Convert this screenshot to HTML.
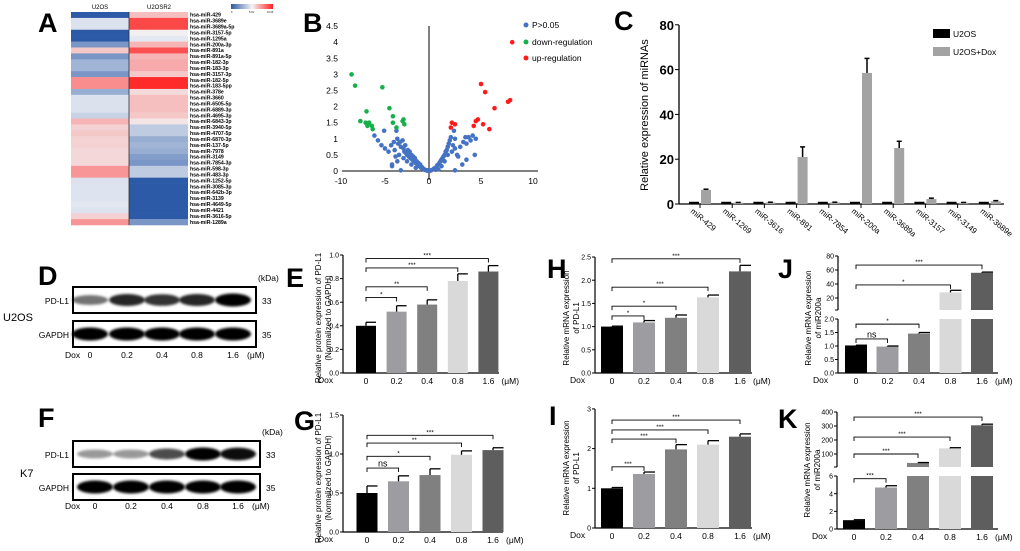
<!DOCTYPE html>
<html><head><meta charset="utf-8">
<style>
html,body{margin:0;padding:0;background:#fff;}
svg{display:block;font-family:"Liberation Sans",Arial,sans-serif;}
</style></head>
<body>
<svg id="fig" width="1020" height="551" viewBox="0 0 1020 551" xmlns="http://www.w3.org/2000/svg">
<defs>
<linearGradient id="cbar" x1="0" x2="1" y1="0" y2="0"><stop offset="0" stop-color="#2c5aa6"/><stop offset="0.5" stop-color="#f4f4f6"/><stop offset="1" stop-color="#ff2020"/></linearGradient>
<filter id="blur" x="-20%" y="-60%" width="140%" height="220%"><feGaussianBlur stdDeviation="1.4"/></filter>
</defs>
</svg>
<script>
const NS='http://www.w3.org/2000/svg';
const svg=document.getElementById('fig');
function mk(tag,attrs,parent){const e=document.createElementNS(NS,tag);for(const k in attrs)e.setAttribute(k,attrs[k]);(parent||svg).appendChild(e);return e;}
function txt(x,y,s,size,attrs,parent){const e=mk('text',Object.assign({x:x,y:y,'font-size':size,fill:'#000'},attrs||{}),parent);e.textContent=s;return e;}

/* ---------- DATA ---------- */
const hmLabels=['hsa-miR-429','hsa-miR-3689e','hsa-miR-3689a-5p','hsa-miR-3157-5p','hsa-miR-1295a','hsa-miR-200a-3p','hsa-miR-891a','hsa-miR-891a-5p','hsa-miR-182-3p','hsa-miR-183-3p','hsa-miR-3157-3p','hsa-miR-182-5p','hsa-miR-183-5pp','hsa-miR-378e','hsa-miR-3660','hsa-miR-6505-5p','hsa-miR-6889-3p','hsa-miR-4695-3p','hsa-miR-6843-3p','hsa-miR-3940-5p','hsa-miR-4707-5p','hsa-miR-6870-3p','hsa-miR-137-5p','hsa-miR-7978','hsa-miR-3149','hsa-miR-7854-3p','hsa-miR-598-3p','hsa-miR-483-3p','hsa-miR-1252-5p','hsa-miR-3085-3p','hsa-miR-642b-3p','hsa-miR-3139','hsa-miR-4649-5p','hsa-miR-4421','hsa-miR-3616-5p','hsa-miR-1289a'];
const hmU2OS=[-1,-0.1,-0.1,-1,-1,-0.6,0.2,-0.6,-0.4,-0.4,-0.6,0.5,0.5,-0.45,-0.1,-0.1,-0.1,-0.2,0.3,0.15,0.2,0.15,0.15,0.12,0.12,0.12,0.45,0.45,-0.1,-0.08,-0.08,-0.08,-0.06,-0.08,0.15,0.45];
const hmU2OSR2=[0.25,0.85,0.85,0.0,-0.05,0.3,0.8,0.3,0.35,0.35,0.2,1,1,0.1,0.25,0.25,0.25,0.2,0.05,-0.25,-0.25,-0.45,-0.4,-0.45,-0.55,-0.6,-0.25,-0.25,-1,-1,-1,-1,-1,-1,-1,-0.6];

const vBlueX=[-6.2,-5.8,-5.4,-5.1,-5,-4.6,-4.3,-4.0,-3.9,-3.6,-3.5,-3.3,-3.2,-3.0,-2.9,-2.8,-2.7,-2.6,-2.5,-2.4,-2.3,-2.2,-2.1,-2.0,-1.9,-1.8,-1.7,-1.6,-1.5,-1.4,-1.3,-1.2,-1.1,-1.0,-0.9,-0.8,-0.7,-0.6,-0.5,-0.4,-0.3,-0.2,-3.8,-3.6,-4.2,-4.2,-3.2,-3.4,-2.5,-2.9,-2,-1.5,-3.7,0.2,0.4,0.5,0.7,0.8,0.9,1.0,1.1,1.2,1.3,1.4,1.5,1.6,1.7,1.8,1.9,2.0,2.1,1.5,1.8,2.2,2.3,2.5,2.7,2.8,2.4,2.5,3.0,3.3,3.5,3.6,3.8,4.0,4.2,4.5,4.4,3.6,3.2,2.5,1.2,0.9,0,-0.1,0.1];
const vBlueY=[1.1,0.95,0.8,1.25,0.7,0.6,0.8,0.9,0.65,1.0,0.85,0.9,0.75,0.95,0.7,0.6,0.8,0.55,0.5,0.65,0.45,0.6,0.4,0.5,0.35,0.45,0.3,0.4,0.25,0.3,0.2,0.25,0.15,0.2,0.1,0.12,0.08,0.06,0.04,0.03,0.02,0.01,0.45,0.3,0.2,0.15,0.02,0.5,0.3,0.4,0.2,0.1,1.25,0.02,0.05,0.08,0.12,0.18,0.2,0.25,0.3,0.35,0.4,0.45,0.5,0.6,0.65,0.75,0.85,0.95,1.05,0.3,0.5,0.6,0.8,0.7,0.5,0.45,1.25,1.0,0.75,0.9,1.05,0.85,1.05,0.95,1.1,1.0,0.5,0.35,0.2,0.02,0.15,0.05,0.01,0.02,0.01];
const vGreenX=[-8.8,-8.4,-5.3,-7.8,-7.1,-7.2,-6.8,-6.5,-6.4,-7,-4.5,-4.1,-4.1,-3.7,-3.0,-2.9,-2.8];
const vGreenY=[3,2.65,2.6,1.55,1.85,1.5,1.5,1.4,1.3,1.4,1.95,1.7,1.5,1.35,1.55,1.6,1.45];
const vRedX=[5,5.4,6.3,7.6,7.8,2.2,2.5,2.1,4.3,4.5,4.7,5.2,5.8,8];
const vRedY=[2.7,2.45,1.95,2.15,2.2,1.5,1.45,1.35,1.4,1.55,1.6,1.45,1.3,4.0];
const vYTicks=[0,0.5,1,1.5,2,2.5,3,3.5,4,4.5];
const vXTicks=[-10,-5,0,5,10];

const cCats=['miR-429','miR-1269','miR-3616','miR-891','miR-7854','miR-200a','miR-3689a','miR-3157','miR-3149','miR-3689e'];
const cU2OS=[1,1,1,1,1,1,1,1,1,1];
const cDox=[6.3,0.6,0.7,21,0.7,58.5,25,2.2,0.6,1.2];
const cDoxErr=[0.3,0.1,0.1,4.5,0.1,6.5,3,0.4,0.1,0.3];
const cTicks=[0,20,40,60,80];

const doses=['0','0.2','0.4','0.8','1.6'];
const eVals=[0.40,0.52,0.58,0.78,0.86], eErr=[0.03,0.05,0.04,0.06,0.05];
const gVals=[0.50,0.65,0.73,0.99,1.05], gErr=[0.09,0.07,0.08,0.05,0.03];
const hVals=[1.0,1.09,1.19,1.63,2.19], hErr=[0.01,0.04,0.06,0.05,0.13];
const iVals=[1.0,1.36,1.98,2.1,2.3], iErr=[0.02,0.05,0.12,0.1,0.07];
const jVals=[1.02,0.98,1.46,28,56], jErr=[0.01,0.02,0.04,3,1];
const kVals=[1.0,4.7,36,140,305], kErr=[0.05,0.2,3,5,8];
const eBr=[[1,0.64,'*'],[2,0.73,'**'],[3,0.89,'***'],[4,0.97,'***']];
const gBr=[[1,0.82,'ns'],[2,0.97,'*'],[3,1.14,'**'],[4,1.24,'***']];
const hBr=[[1,1.23,'*'],[2,1.44,'*'],[3,1.85,'***'],[4,2.46,'***']];
const iBr=[[1,1.54,'***'],[2,2.24,'***'],[3,2.47,'***'],[4,2.72,'***']];
const jBr=[[1,1.26,'ns'],[2,1.81,'*'],[3,38.6,'*'],[4,67,'***']];
const kBr=[[1,5.7,'***'],[2,100,'***'],[3,221,'***'],[4,364,'***']];
const dBlotPD=[0.55,0.85,0.8,0.85,1.0], fBlotPD=[0.4,0.4,0.7,1.0,0.95];
const blotGAPDH=[1,1,1,1,1];

/* ---------- panel letters ---------- */
const letters=[['A',38,32],['B',303,32],['C',614,30],['D',38,285],['E',286,287],['H',547,278],['J',778,278],['F',38,427],['G',294,430],['I',549,425],['K',778,428]];
letters.forEach(l=>{const t=txt(l[1],l[2],l[0],27,{'font-weight':'bold'});

});

/* ---------- A heatmap ---------- */
function hcol(v){const a=Math.abs(v);
 if(v<0){return 'rgb('+Math.round(238-(238-44)*a)+','+Math.round(240-(240-90)*a)+','+Math.round(245-(245-166)*a)+')';}
 return 'rgb('+Math.round(242+(255-242)*a)+','+Math.round(239-(239-42)*a)+','+Math.round(240-(240-42)*a)+')';}
const hmG=mk('g',{});


const rowH=(225-12)/hmLabels.length;
hmLabels.forEach((lab,i)=>{
 const y=12+i*rowH;
 const c1=mk('rect',{x:71,y:y,width:58,height:rowH+0.3,fill:hcol(hmU2OS[i])},hmG);
 
 
 const c2=mk('rect',{x:129,y:y,width:59,height:rowH+0.3,fill:hcol(hmU2OSR2[i])},hmG);
 
 
 const t=txt(190,y+rowH*0.8,lab,5.2,{'font-weight':'bold'},hmG);
 
 
});
mk('line',{x1:129,y1:12,x2:129,y2:225,stroke:'#333','stroke-width':0.8},hmG);
let t1=txt(100,9,'U2OS',6,{'text-anchor':'middle'});
let t2=txt(159,9,'U2OSR2',6,{'text-anchor':'middle'});
const cb=mk('rect',{x:231,y:4,width:42,height:5,fill:'url(#cbar)'});


txt(231,13,'0',2.5);txt(249,13,'5.01',2.5);txt(267,13,'10.00',2.5);

/* ---------- B volcano ---------- */
function vx(v){return v<0?429+v*8.8:429+v*10.4;}
function vy(v){return 171-v*32.2;}
const vG=mk('g',{});


mk('line',{x1:342,y1:171,x2:538,y2:171,stroke:'#000','stroke-width':1},vG);
mk('line',{x1:429,y1:26,x2:429,y2:180,stroke:'#000','stroke-width':1},vG);
vYTicks.forEach(v=>{const t=txt(338,vy(v)+3,String(v),8.5,{'text-anchor':'end'},vG);});
vXTicks.forEach(v=>{const t=txt(vx(v),184,String(v),8.5,{'text-anchor':'middle'},vG);});
function dots(xs,ys,col,name){xs.forEach((x,i)=>{const c=mk('circle',{cx:vx(x),cy:vy(ys[i]),r:2.3,fill:col},vG);});}
dots(vBlueX,vBlueY,'#4472c4','point-ns');
dots(vGreenX,vGreenY,'#16b04a','point-down');
dots(vRedX,vRedY,'#ff1a1a','point-up');
[['P>0.05','#4472c4',25],['down-regulation','#16b04a',42],['up-regulation','#ff1a1a',58]].forEach(l=>{
 const c=mk('circle',{cx:526,cy:l[2],r:2.5,fill:l[1]});
 const t=txt(532,l[2]+3,l[0],8.5);});

/* ---------- C bar chart ---------- */
function cy(v){return 204-v*2.24;}
const cG=mk('g',{});


mk('line',{x1:679,y1:25,x2:679,y2:204,stroke:'#000','stroke-width':1.3},cG);
mk('line',{x1:679,y1:204,x2:1004,y2:204,stroke:'#000','stroke-width':1.3},cG);
cTicks.forEach(v=>{mk('line',{x1:675,y1:cy(v),x2:679,y2:cy(v),stroke:'#000'},cG);
 const t=txt(674,cy(v)+5,String(v),13,{'text-anchor':'end','font-weight':'bold'},cG);});
const cyl=txt(0,0,'Relative expression of miRNAs',11,{transform:'translate(648,115) rotate(-90)','text-anchor':'middle'},cG);

cCats.forEach((cat,i)=>{
 const gx=694+i*32.2;
 const b=mk('rect',{x:gx-5,y:cy(cU2OS[i]),width:10,height:204-cy(cU2OS[i]),fill:'#000'},cG);
 
 const g=mk('rect',{x:gx+7,y:cy(cDox[i]),width:10,height:204-cy(cDox[i]),fill:'#a3a3a3'},cG);
 
 const ey=cy(cDox[i]+cDoxErr[i]);
 mk('line',{x1:gx+12,y1:cy(cDox[i]),x2:gx+12,y2:ey,stroke:'#000','stroke-width':1.5},cG);
 mk('line',{x1:gx+9.5,y1:ey,x2:gx+14.5,y2:ey,stroke:'#000','stroke-width':1.5},cG);
 mk('line',{x1:gx+6,y1:204,x2:gx+6,y2:208,stroke:'#000'},cG);
 const t=txt(0,0,cat,8,{transform:'translate('+(gx-4)+',212) rotate(40)'},cG);
 
});
[['U2OS','#000',29],['U2OS+Dox','#a3a3a3',47]].forEach(l=>{
 const r=mk('rect',{x:933,y:l[2],width:17,height:9,fill:l[1]});
 const t=txt(953,l[2]+8,l[0],8.5);});

/* ---------- Western blots ---------- */
function blot(top,cell,pd,lanes,right,boxY1,boxY2,doseY){
 const g=mk('g',{});
 
 
 [[boxY1,pd,'PD-L1','33'],[boxY2,blotGAPDH,'GAPDH','35']].forEach(r=>{
  mk('rect',{x:73,y:r[0],width:right-73,height:26,fill:'#fff',stroke:'#000','stroke-width':2},g);
  r[1].forEach((v,i)=>{const e=mk('ellipse',{cx:lanes[i],cy:r[0]+13,rx:18,ry:3+v*3.5,fill:'#000','fill-opacity':v,filter:'url(#blur)'},g);
   });
  txt(69,r[0]+17,r[2],8.5,{'text-anchor':'end'},g);
  txt(right+6,r[0]+17,r[3],8.5,{},g);
 });
 txt(right+2,boxY1-6,'(kDa)',8.5,{},g);
 txt(65,doseY,'Dox',8.5,{},g);
 doses.forEach((d,i)=>txt(lanes[i],doseY,d,8.5,{'text-anchor':'middle'},g));
 txt(lanes[4]+14,doseY,'(μM)',8.5,{},g);
 const c=txt(cell==='U2OS'?3:20,top,cell,11,{},g);
}
blot(321,'U2OS',dBlotPD,[90,127,162,197,233],256,287,321,358);
blot(477,'K7',fBlotPD,[95,131,167,203,238],260,441,474,509);

/* ---------- generic bar panels ---------- */
const barColors=['#000000','#9d9da1','#808080','#d9d9d9','#5e5e5e'];
function panel(p){
 const g=mk('g',{});
 
 
 const yf=p.yf;
 if(p.brk){mk('line',{x1:p.ax,y1:p.base,x2:p.ax,y2:p.brk.lowTop,stroke:'#000','stroke-width':1.2},g);
  mk('line',{x1:p.ax,y1:p.brk.upBot,x2:p.ax,y2:p.top,stroke:'#000','stroke-width':1.2},g);
  mk('line',{x1:p.ax-3,y1:p.brk.upBot,x2:p.ax,y2:p.brk.upBot,stroke:'#000'},g);}
 else mk('line',{x1:p.ax,y1:p.base,x2:p.ax,y2:p.top,stroke:'#000','stroke-width':1.2},g);
 mk('line',{x1:p.ax,y1:p.base,x2:p.right,y2:p.base,stroke:'#000','stroke-width':1.2},g);
 p.ticks.forEach((v,i)=>{const y=yf(v);mk('line',{x1:p.ax-3,y1:y,x2:p.ax,y2:y,stroke:'#000'},g);
  const t=txt(p.ax-4,y+2.6,p.tickLabels[i],7,{'text-anchor':'end'},g);});
 p.vals.forEach((v,i)=>{
  const cx=p.x0+i*p.step, x=cx-p.bw/2;
  if(p.brk&&v>p.brk.lowMax){
   const r1=mk('rect',{x:x,y:p.brk.lowTop,width:p.bw,height:p.base-p.brk.lowTop,fill:barColors[i]},g);
   
   const r2=mk('rect',{x:x,y:yf(v),width:p.bw,height:p.brk.upBot-yf(v),fill:barColors[i]},g);
   
  } else {
   const r=mk('rect',{x:x,y:yf(v),width:p.bw,height:p.base-yf(v),fill:barColors[i]},g);
   
  }
  const ey=yf(v+p.errs[i]);
  mk('line',{x1:cx,y1:yf(v),x2:cx,y2:ey,stroke:'#000','stroke-width':1.3},g);
  mk('line',{x1:cx,y1:ey,x2:cx+p.bw/2,y2:ey,stroke:'#000','stroke-width':1.3},g);
  const t=txt(cx,p.base+11,doses[i],8.5,{'text-anchor':'middle'},g);
 });
 txt(p.ax-25,p.base+10,'Dox',8.5,{},g);
 txt(p.x0+4*p.step+13,p.base+11,'(μM)',8.5,{},g);
 p.br.forEach(b=>{const y=yf(b[1]);const x1=p.x0,x2=p.x0+b[0]*p.step;
  const pth=mk('path',{d:'M'+x1+' '+(y+4)+'V'+y+'H'+x2+'V'+(y+4),fill:'none',stroke:'#000','stroke-width':0.9},g);
  
  const t=txt((x1+x2)/2,b[2]==='ns'?y-1.5:y-1,b[2],b[2]==='ns'?9:6.5,{'text-anchor':'middle'},g);
  });
 p.ylab.forEach((s,i)=>{const t=txt(0,0,s,8,{transform:'translate('+(p.ax-p.lx+i*10)+','+p.labY+') rotate(-90)','text-anchor':'middle'},g);
  });
}
const protLab=['Relative protein expression of PD-L1','(Normalized to GAPDH)'];
const mrnaLab=['Relative mRNA expression','of PD-L1'];
const mirLab=['Relative mRNA expression','of miR200a'];
panel({name:'panel-e-chart',ax:343,base:373,top:255,right:499,x0:366,step:30.6,bw:20,yf:v=>373-v*118,lx:22,
 ticks:[0,0.2,0.4,0.6,0.8,1.0],tickLabels:['0.0','0.2','0.4','0.6','0.8','1.0'],vals:eVals,errs:eErr,br:eBr,ylab:protLab,labY:318});
panel({name:'panel-g-chart',ax:343,base:532,top:415,right:503,x0:367,step:31.5,bw:21,yf:v=>532-v*78,lx:22,
 ticks:[0,0.5,1.0,1.5],tickLabels:['0.0','0.5','1.0','1.5'],vals:gVals,errs:gErr,br:gBr,ylab:protLab,labY:478});
panel({name:'panel-h-chart',ax:595,base:373,top:257,right:752,x0:612,step:32,bw:22,yf:v=>373-v*46.4,lx:26,
 ticks:[0,0.5,1.0,1.5,2.0,2.5],tickLabels:['0.0','0.5','1.0','1.5','2.0','2.5'],vals:hVals,errs:hErr,br:hBr,ylab:mrnaLab,labY:318});
panel({name:'panel-i-chart',ax:595,base:528,top:409,right:752,x0:612,step:32,bw:22,yf:v=>528-v*39.7,lx:26,
 ticks:[0,1,2,3],tickLabels:['0','1','2','3'],vals:iVals,errs:iErr,br:iBr,ylab:mrnaLab,labY:468});
panel({name:'panel-j-chart',ax:838,base:373,top:256,right:998,x0:856,step:31.5,bw:22,lx:27,
 yf:v=>v<=2?373-v*27:298-(v-20)*0.7,brk:{lowMax:2,lowTop:319,upBot:310},
 ticks:[0,0.5,1,1.5,2,20,40,60,80],tickLabels:['0.0','0.5','1.0','1.5','2.0','20','40','60','80'],vals:jVals,errs:jErr,br:jBr,ylab:mirLab,labY:318});
panel({name:'panel-k-chart',ax:837,base:529,top:412,right:998,x0:854,step:32,bw:22,lx:27,
 yf:v=>v<=6?529-v*8.83:454-(v-100)*0.14,brk:{lowMax:6,lowTop:476,upBot:467},
 ticks:[0,2,4,6,100,200,300,400],tickLabels:['0','2','4','6','100','200','300','400'],vals:kVals,errs:kErr,br:kBr,ylab:mirLab,labY:470});
</script>
</body></html>
